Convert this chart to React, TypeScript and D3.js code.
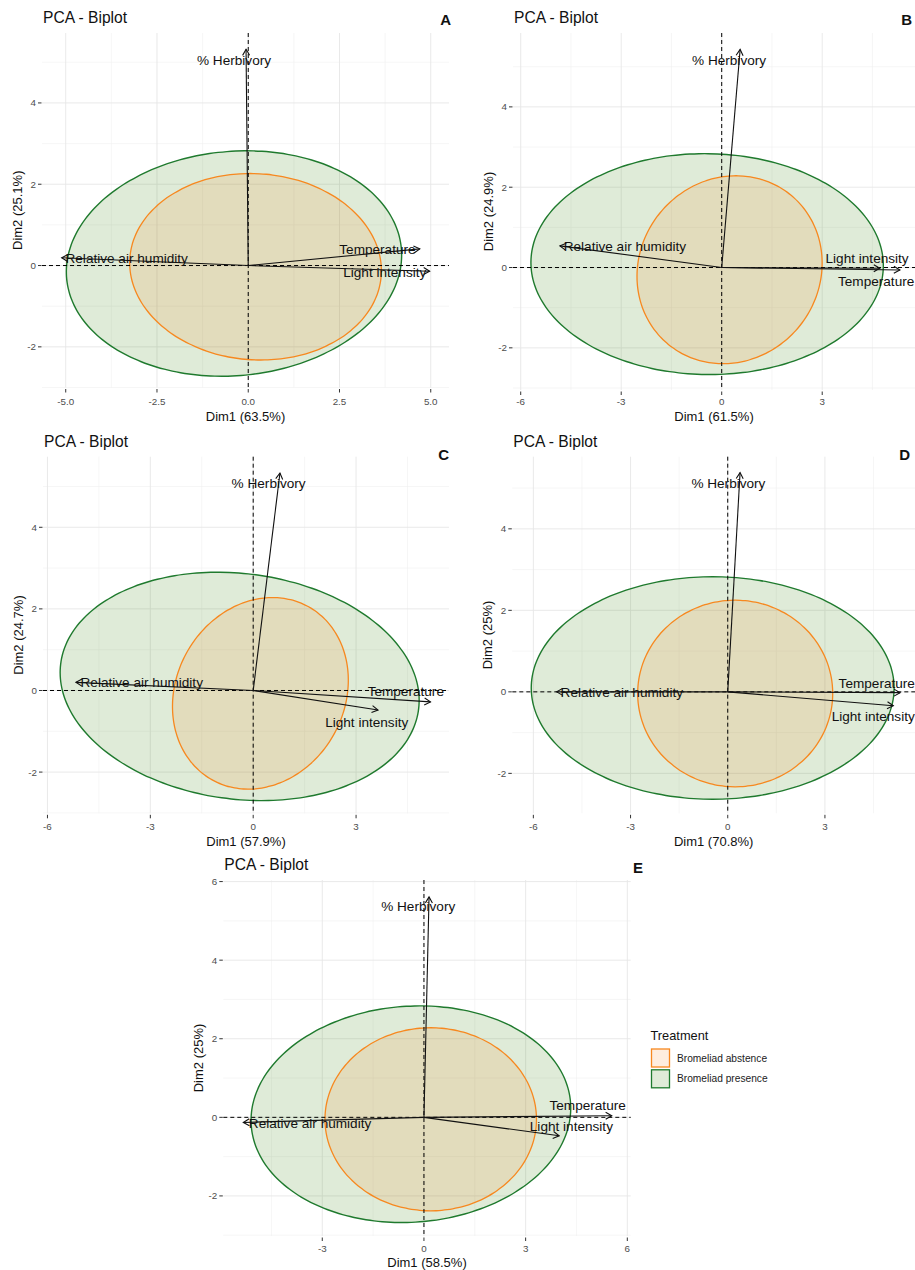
import * as d3 from 'd3'

// --- data -----------------------------------------------------------------
const panelLetters = ['A', 'B', 'C', 'D', 'E']
const dim1Labels = ['Dim1 (63.5%)', 'Dim1 (61.5%)', 'Dim1 (57.9%)', 'Dim1 (70.8%)', 'Dim1 (58.5%)']
const dim2Labels = ['Dim2 (25.1%)', 'Dim2 (24.9%)', 'Dim2 (24.7%)', 'Dim2 (25%)', 'Dim2 (25%)']

const xTicks = [[-5, -2.5, 0, 2.5, 5], [-6, -3, 0, 3], [-6, -3, 0, 3], [-6, -3, 0, 3], [-3, 0, 3, 6]]
const yTicks = [[-2, 0, 2, 4], [-2, 0, 2, 4], [-2, 0, 2, 4], [-2, 0, 2, 4], [-2, 0, 2, 4, 6]]
const xDomains = [[-5.65, 5.5], [-6.23, 5.77], [-6.13, 5.71], [-6.65, 5.78], [-5.92, 6.1]]
const yDomains = [[-3.0, 5.72], [-3.05, 5.84], [-3.01, 5.73], [-2.98, 5.77], [-3.02, 6.04]]

const variables = ['% Herbivory', 'Temperature', 'Light intensity', 'Relative air humidity']
// arrow tips, one row per panel, same order as variables
const tipX = [
  [-0.06, 4.7, 4.97, -5.11],
  [0.55, 5.32, 4.72, -4.83],
  [0.78, 5.17, 3.64, -5.17],
  [0.38, 5.32, 5.11, -5.28],
  [0.15, 5.54, 3.99, -5.33],
]
const tipY = [
  [5.32, 0.41, -0.14, 0.19],
  [5.43, -0.06, -0.02, 0.54],
  [5.33, -0.28, -0.48, 0.2],
  [5.38, -0.02, -0.34, 0],
  [5.61, 0.04, -0.47, -0.13],
]
// label centres in data units
const labelX = [
  [-0.39, 3.54, 3.74, -3.33],
  [0.22, 4.61, 4.34, -2.89],
  [0.45, 4.45, 3.31, -3.25],
  [0.02, 4.6, 4.49, -3.27],
  [-0.17, 4.83, 4.35, -3.36],
]
const labelY = [
  [5.06, 0.39, -0.16, 0.17],
  [5.17, -0.34, 0.22, 0.54],
  [5.07, -0.03, -0.77, 0.19],
  [5.12, 0.21, -0.6, 0],
  [5.36, 0.3, -0.22, -0.14],
]

const treatments = ['Bromeliad abstence', 'Bromeliad presence']
// ellipse: centre x, centre y, semi-axis a, semi-axis b, rotation (rad)
const absenceEllipse = [
  [0.2, -0.03, 3.45, 2.29, -0.05],
  [0.235, -0.055, 2.78, 2.32, 0.2],
  [0.21, -0.07, 2.65, 2.25, 0.5],
  [0.23, -0.04, 3.01, 2.29, 0],
  [0.2, -0.05, 3.12, 2.33, 0],
]
const presenceEllipse = [
  [-0.39, 0.05, 4.6, 2.76, 0.07],
  [-0.435, 0.085, 5.26, 2.75, -0.01],
  [-0.395, 0.1, 5.25, 2.77, -0.09],
  [-0.465, 0.095, 5.6, 2.73, 0],
  [-0.385, 0.08, 4.72, 2.75, 0.05],
]

// --- layout ----------------------------------------------------------------
const frames = [
  { x0: 42, x1: 449, y0: 33, y1: 387.5, tickY: 405, titleY: 420.5, letterX: 451, letterY: 25 },
  { x0: 513, x1: 915, y0: 33, y1: 390, tickY: 405, titleY: 420.5, letterX: 912, letterY: 25 },
  { x0: 43, x1: 449, y0: 456.7, y1: 813.3, tickY: 830, titleY: 845.5, letterX: 449, letterY: 460 },
  { x0: 512.3, x1: 915, y0: 456.7, y1: 813.3, tickY: 830, titleY: 845.5, letterX: 910, letterY: 460 },
  { x0: 223.3, x1: 630.7, y0: 880, y1: 1236, tickY: 1252, titleY: 1267, letterX: 643, letterY: 873 },
]

const FONT = '"Liberation Sans", Arial, Helvetica, sans-serif'
const GREEN = '#1f7a2e'
const GREEN_FILL = '#5f9a3a'
const ORANGE = '#f7881f'

function minorTicks(ticks: number[], domain: number[]) {
  const step = ticks[1] - ticks[0]
  const out: number[] = []
  for (let v = ticks[0] - step / 2; v <= domain[1] + 1e-6; v += step) {
    if (v >= domain[0] - 1e-6) out.push(v)
  }
  return out
}

function ellipsePath(e: number[], x: d3.ScaleLinear<number, number>, y: d3.ScaleLinear<number, number>) {
  const [cx, cy, a, b, th] = e
  const pts = d3.range(0, 120).map((i) => {
    const t = (i / 120) * Math.PI * 2
    const px = cx + a * Math.cos(t) * Math.cos(th) - b * Math.sin(t) * Math.sin(th)
    const py = cy + a * Math.cos(t) * Math.sin(th) + b * Math.sin(t) * Math.cos(th)
    return [x(px), y(py)] as [number, number]
  })
  return d3.line().curve(d3.curveCardinalClosed)(pts) || ''
}

function Panel({ i }: { i: number }) {
  const f = frames[i]
  const x = d3.scaleLinear().domain(xDomains[i]).range([f.x0, f.x1])
  const y = d3.scaleLinear().domain(yDomains[i]).range([f.y1, f.y0])
  const fmtX = (v: number) => (i === 0 ? v.toFixed(1) : String(v))
  const cx = (f.x0 + f.x1) / 2
  const cy = (f.y0 + f.y1) / 2

  return (
    <g>
      <defs>
        <clipPath id={`clip${i}`}>
          <rect x={f.x0} y={f.y0 - 40} width={f.x1 - f.x0} height={f.y1 - f.y0 + 40} />
        </clipPath>
      </defs>
      {/* grid */}
      {minorTicks(xTicks[i], xDomains[i]).map((v) => (
        <line key={`mx${v}`} x1={x(v)} x2={x(v)} y1={f.y0} y2={f.y1} stroke="#f0f0f0" strokeWidth={0.6} />
      ))}
      {minorTicks(yTicks[i], yDomains[i]).map((v) => (
        <line key={`my${v}`} x1={f.x0} x2={f.x1} y1={y(v)} y2={y(v)} stroke="#f0f0f0" strokeWidth={0.6} />
      ))}
      {xTicks[i].map((v) => (
        <line key={`gx${v}`} x1={x(v)} x2={x(v)} y1={f.y0} y2={f.y1} stroke="#e6e6e6" strokeWidth={0.9} />
      ))}
      {yTicks[i].map((v) => (
        <line key={`gy${v}`} x1={f.x0} x2={f.x1} y1={y(v)} y2={y(v)} stroke="#e6e6e6" strokeWidth={0.9} />
      ))}

      {/* ellipses */}
      <path d={ellipsePath(presenceEllipse[i], x, y)} fill={GREEN_FILL} fillOpacity={0.2} stroke={GREEN} strokeWidth={1.4} />
      <path d={ellipsePath(absenceEllipse[i], x, y)} fill={ORANGE} fillOpacity={0.15} stroke={ORANGE} strokeWidth={1.3} />

      {/* reference lines */}
      <line x1={x(0)} x2={x(0)} y1={f.y0} y2={f.y1} stroke="#000" strokeWidth={1} strokeDasharray="4,3" />
      <line x1={f.x0} x2={f.x1} y1={y(0)} y2={y(0)} stroke="#000" strokeWidth={1} strokeDasharray="4,3" />

      {/* arrows */}
      <g clipPath={`url(#clip${i})`}>
        {variables.map((name, k) => {
          const x0 = x(0)
          const y0 = y(0)
          const x1 = x(tipX[i][k])
          const y1 = y(tipY[i][k])
          const ang = Math.atan2(y1 - y0, x1 - x0)
          const hl = 7
          const spread = Math.PI / 6
          const h1 = [x1 - hl * Math.cos(ang - spread), y1 - hl * Math.sin(ang - spread)]
          const h2 = [x1 - hl * Math.cos(ang + spread), y1 - hl * Math.sin(ang + spread)]
          return (
            <g key={name}>
              <line x1={x0} y1={y0} x2={x1} y2={y1} stroke="#111" strokeWidth={1.1} />
              <path d={`M${h1[0]},${h1[1]}L${x1},${y1}L${h2[0]},${h2[1]}`} fill="none" stroke="#111" strokeWidth={1.1} />
              <text
                x={x(labelX[i][k])}
                y={y(labelY[i][k])}
                dy="0.35em"
                textAnchor="middle"
                fontSize={13.6}
                fill="#111"
              >
                {name}
              </text>
            </g>
          )
        })}
      </g>

      {/* axes */}
      {xTicks[i].map((v) => (
        <g key={`tx${v}`}>
          <line x1={x(v)} x2={x(v)} y1={f.y1 + 1.5} y2={f.y1 + 5} stroke="#333" strokeWidth={1} />
          <text x={x(v)} y={f.tickY} textAnchor="middle" fontSize={9.8} fill="#4d4d4d">
            {fmtX(v)}
          </text>
        </g>
      ))}
      {yTicks[i].map((v) => (
        <g key={`ty${v}`}>
          <line x1={f.x0 - 4} x2={f.x0 - 0.5} y1={y(v)} y2={y(v)} stroke="#333" strokeWidth={1} />
          <text x={f.x0 - 6} y={y(v)} dy="0.35em" textAnchor="end" fontSize={9.8} fill="#4d4d4d">
            {String(v)}
          </text>
        </g>
      ))}
      <text x={cx} y={f.titleY} textAnchor="middle" fontSize={13} fill="#111">
        {dim1Labels[i]}
      </text>
      <text
        transform={`translate(${f.x0 - 20},${cy}) rotate(-90)`}
        textAnchor="middle"
        fontSize={13}
        fill="#111"
      >
        {dim2Labels[i]}
      </text>
      <text x={f.x0 + 1} y={f.y0 - 10} fontSize={15.6} fill="#111">
        PCA - Biplot
      </text>
      <text x={f.letterX} y={f.letterY} textAnchor="end" fontSize={15} fontWeight="bold" fill="#111">
        {panelLetters[i]}
      </text>
    </g>
  )
}

function Legend() {
  const colors = [ORANGE, GREEN]
  const fills = [ORANGE, GREEN_FILL]
  return (
    <g>
      <text x={650.5} y={1040} fontSize={12.8} fill="#111">
        Treatment
      </text>
      {treatments.map((t, k) => (
        <g key={t}>
          <rect
            x={651.5}
            y={1049 + k * 20.8}
            width={18}
            height={18}
            fill={fills[k]}
            fillOpacity={k === 0 ? 0.15 : 0.2}
            stroke={colors[k]}
            strokeWidth={1.3}
          />
          <text x={677} y={1058 + k * 20.8} dy="0.35em" fontSize={10.2} fill="#222">
            {t}
          </text>
        </g>
      ))}
    </g>
  )
}

export default function App() {
  return (
    <div style={{ position: 'absolute', left: 0, top: 0 }}>
      <svg width={915} height={1270} style={{ display: 'block', fontFamily: FONT, background: '#fff' }}>
        {panelLetters.map((_, i) => (
          <Panel key={i} i={i} />
        ))}
        <Legend />
      </svg>
    </div>
  )
}
